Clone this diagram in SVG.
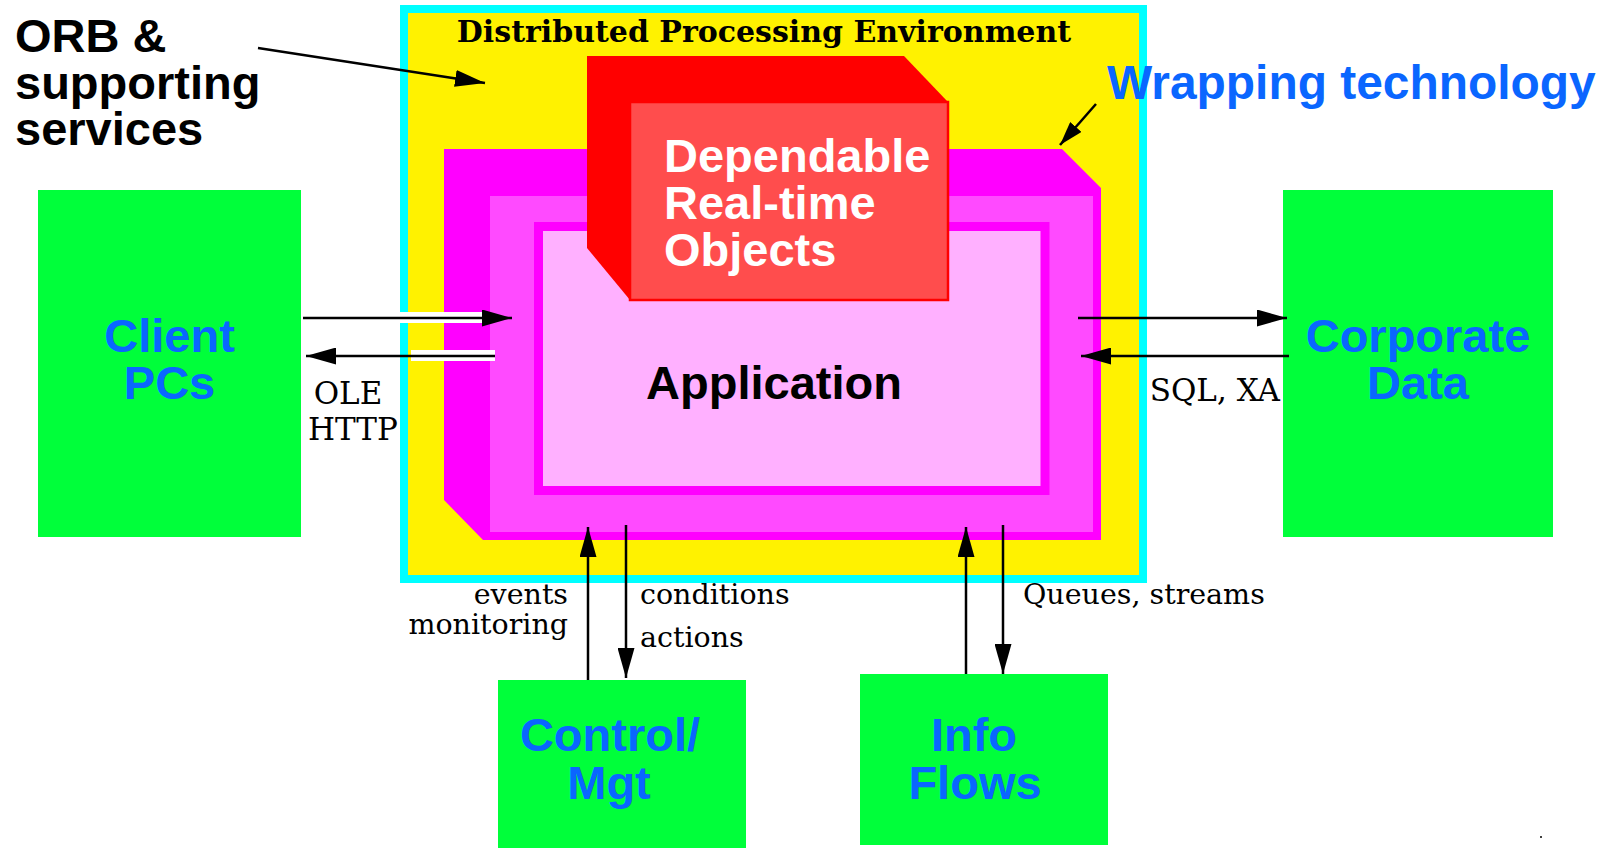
<svg xmlns="http://www.w3.org/2000/svg" width="1611" height="848" viewBox="0 0 1611 848">
<defs>
<style>
.sans{font-family:"Liberation Sans",Arial,sans-serif;font-weight:bold;font-size:47px}
.blue{fill:#0a66ff}
.lbl{font-family:"DejaVu Serif","Liberation Serif",serif;font-size:28.5px;fill:#000}
.lbl2{font-family:"DejaVu Serif","Liberation Serif",serif;font-size:31px;fill:#000}
.title{font-family:"DejaVu Serif","Liberation Serif",serif;font-weight:bold;font-size:30px;fill:#000}
.green{fill:#00ff3a}
.conn{stroke:#000;stroke-width:2.5;fill:none}
</style>
<marker id="head" viewBox="0 0 30 17" refX="30" refY="8.5" markerWidth="30" markerHeight="17" markerUnits="userSpaceOnUse" orient="auto">
<path d="M0,0 L30,8.5 L0,17 z" fill="#000"/>
</marker>
<marker id="headS" viewBox="0 0 24 15" refX="24" refY="7.5" markerWidth="24" markerHeight="15" markerUnits="userSpaceOnUse" orient="auto">
<path d="M0,0 L24,7.5 L0,15 z" fill="#000"/>
</marker>
</defs>
<rect width="1611" height="848" fill="#fff"/>

<g id="orb-environment">
<rect x="404" y="9" width="739" height="570" fill="#fff200" stroke="#00ffff" stroke-width="8"/>
<text class="title" x="764" y="42" text-anchor="middle">Distributed Processing Environment</text>
</g>

<g id="wrapping">
<polygon points="444,149 1062,149 1101,188 1101,540 483,540 444,500" fill="#ff00ff"/>
<rect x="490" y="196" width="603" height="336" fill="#ff4aff"/>
</g>

<g id="application">
<rect x="538.5" y="226.5" width="506.5" height="264" fill="#ffb0ff" stroke="#ff00ff" stroke-width="9"/>
<text class="sans" x="774" y="399" text-anchor="middle" fill="#000">Application</text>
</g>

<g id="dependable-objects">
<polygon points="587,56 904,56 948,102 948,300 630,300 587,248" fill="#ff0000"/>
<rect x="630" y="102" width="318" height="198" fill="#ff4d4d" stroke="#ff0000" stroke-width="2.5"/>
<text class="sans" fill="#fff" x="664" y="172">Dependable</text>
<text class="sans" fill="#fff" x="664" y="219">Real-time</text>
<text class="sans" fill="#fff" x="664" y="266">Objects</text>
</g>

<g id="orb-label">
<text class="sans" fill="#000" x="15" y="52">ORB &amp;</text>
<text class="sans" fill="#000" x="15" y="98.5">supporting</text>
<text class="sans" fill="#000" x="15" y="145">services</text>
</g>

<g id="wrapping-label">
<text class="sans blue" x="1107" y="99" style="font-size:47.9px">Wrapping technology</text>
</g>

<g id="client-pcs">
<rect class="green" x="38" y="190" width="263" height="347"/>
<text class="sans blue" x="169.5" y="352" text-anchor="middle">Client</text>
<text class="sans blue" x="169.5" y="399" text-anchor="middle">PCs</text>
</g>

<g id="corporate-data">
<rect class="green" x="1283" y="190" width="270" height="347"/>
<text class="sans blue" x="1418" y="352" text-anchor="middle">Corporate</text>
<text class="sans blue" x="1418" y="399" text-anchor="middle">Data</text>
</g>

<g id="control-mgt">
<rect class="green" x="498" y="680" width="248" height="168"/>
<text class="sans blue" x="610" y="751" text-anchor="middle">Control/</text>
<text class="sans blue" x="609" y="799" text-anchor="middle">Mgt</text>
</g>

<g id="info-flows">
<rect class="green" x="860" y="674" width="248" height="171"/>
<text class="sans blue" x="974" y="751" text-anchor="middle">Info</text>
<text class="sans blue" x="975" y="799" text-anchor="middle">Flows</text>
</g>

<g id="connectors">
<rect x="400" y="312" width="82" height="11" fill="#fff"/>
<rect x="411" y="350" width="84" height="11" fill="#fff"/>
<line class="conn" x1="258" y1="48" x2="485" y2="83" marker-end="url(#head)"/>
<line class="conn" x1="1096" y1="104" x2="1060" y2="145" marker-end="url(#headS)"/>
<line class="conn" x1="303" y1="318" x2="512" y2="318" marker-end="url(#head)"/>
<line class="conn" x1="495" y1="356" x2="306" y2="356" marker-end="url(#head)"/>
<line class="conn" x1="1078" y1="318" x2="1287" y2="318" marker-end="url(#head)"/>
<line class="conn" x1="1289" y1="356" x2="1081" y2="356" marker-end="url(#head)"/>
<line class="conn" x1="588" y1="680" x2="588" y2="527" marker-end="url(#head)"/>
<line class="conn" x1="626" y1="525" x2="626" y2="678" marker-end="url(#head)"/>
<line class="conn" x1="966" y1="674" x2="966" y2="527" marker-end="url(#head)"/>
<line class="conn" x1="1003" y1="525" x2="1003" y2="674" marker-end="url(#head)"/>
</g>

<g id="labels">
<text class="lbl2" x="348" y="404" text-anchor="middle">OLE</text>
<text class="lbl2" x="353" y="440" text-anchor="middle">HTTP</text>
<text class="lbl2" x="1280" y="401" text-anchor="end">SQL, XA</text>
<text class="lbl" x="568" y="604" text-anchor="end">events</text>
<text class="lbl" x="568" y="634" text-anchor="end">monitoring</text>
<text class="lbl" x="640" y="604">conditions</text>
<text class="lbl" x="640" y="647">actions</text>
<text class="lbl" x="1023" y="604">Queues, streams</text>
</g>
<circle cx="1541" cy="837" r="1" fill="#000"/>
</svg>
